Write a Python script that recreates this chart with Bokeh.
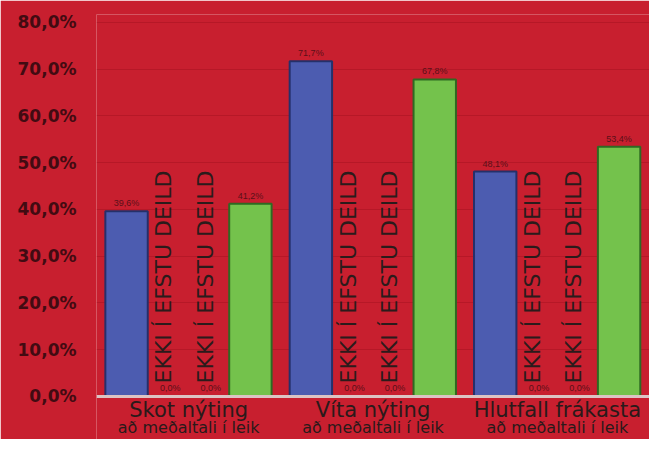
import math
from bokeh.plotting import figure
from bokeh.models import ColumnDataSource, FactorRange, Range1d, FixedTicker, Span, LabelSet
from bokeh.transform import dodge
from bokeh.core.properties import value
from bokeh.embed import file_html
from bokeh.resources import INLINE

categories = ["Skot nýting", "Víta nýting", "Hlutfall frákasta"]
subtitle = "að meðaltali í leik"
series_a = [39.6, 71.7, 48.1]   # blue
series_b = [0.0, 0.0, 0.0]      # red
series_c = [0.0, 0.0, 0.0]      # yellow
series_d = [41.2, 67.8, 53.4]   # green
note = "EKKI Í EFSTU DEILD"
y_ticks = [0, 10, 20, 30, 40, 50, 60, 70, 80]


def pct(v):
    return f"{v:.1f}".replace(".", ",") + "%"


BG = "#c81f2f"
p = figure(width=649, height=439, output_backend="svg", toolbar_location=None,
           x_range=FactorRange(*categories, range_padding=0.0),
           y_range=Range1d(-9.2, 81.7),
           min_border_left=96, min_border_right=0, min_border_top=14, min_border_bottom=0)
p.background_fill_color = BG
p.border_fill_color = BG
p.outline_line_color = None

n = len(categories)
src = ColumnDataSource(dict(
    cat=categories,
    a=series_a, b=series_b, c=series_c, d=series_d,
    la=[pct(v) for v in series_a], lb=[pct(v) for v in series_b],
    lc=[pct(v) for v in series_c], ld=[pct(v) for v in series_d],
    note=[note] * n,
    sub=[subtitle] * n,
    base=[2.8] * n,
    ymain=[-2.8] * n,
    ysub=[-6.7] * n,
))

p.add_layout(Span(location=0, dimension="width", line_color="#dcc4c4", line_width=3))

W = 0.23
specs = [("a", "la", -0.337, "#4c5cb0", "#25306a"),
         ("b", "lb", -0.10, "#a8172a", "#6e0c18"),
         ("c", "lc", 0.12, "#d6cf78", "#9a9440"),
         ("d", "ld", 0.335, "#74c24c", "#2e6a22")]
for col, lab, off, fill, edge in specs:
    p.vbar(x=dodge("cat", off, range=p.x_range), top=col, width=W, source=src,
           fill_color=fill, line_color=edge, line_width=2)
    p.add_layout(LabelSet(x=dodge("cat", off, range=p.x_range), y=col, text=lab, source=src,
                          text_font=value("Liberation Sans"), text_font_size="9px",
                          text_color="#5a1018", text_align="center", y_offset=3))

for off in (-0.135, 0.09):
    p.text(x=dodge("cat", off, range=p.x_range), y="base", text="note", source=src,
           angle=math.pi / 2, text_align="left", text_baseline="middle",
           text_font=value("DejaVu Sans"), text_font_size="22px", text_color="#2b1b1b")

p.text(x="cat", y="ymain", text="cat", source=src, text_align="center",
       text_baseline="middle", text_font=value("DejaVu Sans"), text_font_size="21px",
       text_color="#2a1a1a")
p.text(x="cat", y="ysub", text="sub", source=src, text_align="center",
       text_baseline="middle", text_font=value("DejaVu Sans"), text_font_size="16px",
       text_color="#2a1a1a")

p.xaxis.visible = False
p.yaxis.ticker = FixedTicker(ticks=y_ticks)
p.yaxis.major_label_overrides = {t: pct(t) for t in y_ticks}
p.yaxis.major_label_text_font = "DejaVu Sans"
p.yaxis.major_label_text_font_style = "bold"
p.yaxis.major_label_text_font_size = "17px"
p.yaxis.major_label_text_color = "#420b12"
p.yaxis.axis_line_color = None
p.yaxis.major_tick_line_color = None
p.yaxis.minor_tick_line_color = None
p.yaxis.major_label_standoff = 14

p.xgrid.grid_line_color = None
p.ygrid.grid_line_color = "#9c0f1c"
p.ygrid.grid_line_alpha = 0.4

open("out.html", "w").write(file_html(p, INLINE))
